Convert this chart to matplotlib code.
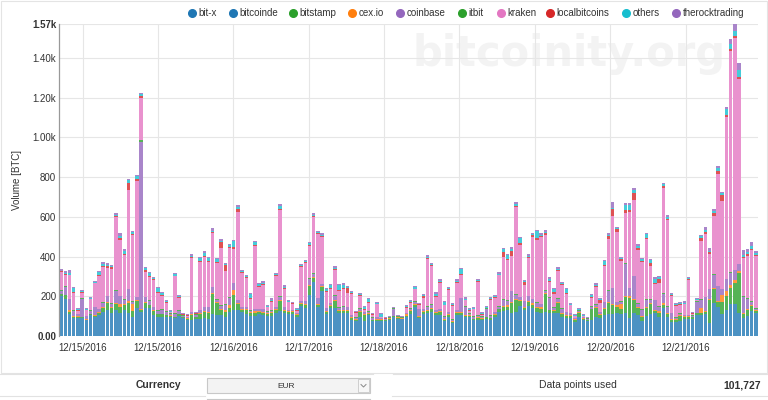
import numpy as np
import matplotlib
matplotlib.use('Agg')
import matplotlib.pyplot as plt
from matplotlib.lines import Line2D
from matplotlib.patches import Rectangle
from matplotlib.colors import to_rgb

plt.rcParams['font.family'] = ['Liberation Sans', 'DejaVu Sans']

# ---------------- data (hourly volume, BTC) ----------------
exchanges = ['bit-x', 'bitcoinde', 'bitstamp', 'cex.io', 'coinbase', 'itbit',
             'kraken', 'localbitcoins', 'others', 'therocktrading']

bitx = [1,1,1,1,1,1,1,1,1,1, 1,1,1,1,1,1,1,1,1,1, 1,1,1,1,1,1,1,1,1,1,
        1,1,1,1,1,1,1,1,1,1, 1,1,1,1,1,1,1,1,1,1, 1,1,1,1,1,1,1,1,1,1,
        1,1,1,1,1,1,1,1,1,1, 1,1,1,1,1,1,1,1,1,1, 1,1,1,1,1,1,1,1,1,1,
        1,1,1,1,1,1,1,1,1,1, 1,1,1,1,1,1,1,1,1,1, 1,1,1,1,1,1,1,1,1,1,
        1,1,1,1,1,1,1,1,1,1, 1,1,1,1,1,1,1,1,1,1, 1,1,1,1,1,1,1,1,1,1,
        1,1,1,1,1,1,1,1,1,1, 1,1,1,1,1,1]

bitcoinde = [198,185,110,89,89,89,77,105,93,105,
             122,130,117,130,114,130,114,97,139,122,
             139,139,105,97,93,93,97,89,101,90,
             78,80,85,85,90,85,110,105,105,95,
             120,130,130,120,110,100,100,110,105,100,
             100,115,127,115,110,110,95,150,140,207,
             272,145,225,110,140,140,117,117,117,80,
             72,97,72,105,72,75,75,74,81,93,
             86,83,95,110,145,90,110,117,122,105,
             105,72,97,63,105,105,97,95,78,82,
             82,85,78,95,122,125,130,114,122,148,
             130,148,140,122,114,122,114,117,117,97,
             90,90,70,97,80,76,78,97,90,105,
             110,110,114,110,114,90,114,105,72,100,
             110,114,97,140,95,70,70,75,85,85,
             85,105,105,110,65,165,145,110,130,158,
             158,115,90,100,125,115]

bitstamp = [12,20,8,8,6,5,5,5,8,10,
            20,35,25,30,30,25,50,30,35,10,
            25,15,20,12,15,10,5,5,8,5,
            8,25,10,25,30,30,100,60,25,25,
            20,75,30,10,20,15,15,10,10,12,
            15,15,50,10,10,10,10,10,15,45,
            20,10,20,10,10,35,10,10,8,8,
            8,25,35,5,5,5,5,4,5,5,
            5,4,5,15,10,5,10,10,15,10,
            15,10,8,8,10,10,5,5,5,8,
            5,8,10,10,12,20,15,50,60,25,
            10,20,15,20,20,90,15,10,50,15,
            10,10,10,20,5,4,55,45,15,30,
            55,45,30,25,80,100,65,35,25,40,
            50,10,20,15,15,10,10,25,10,10,
            8,8,10,8,115,70,25,60,70,85,
            110,200,20,30,25,10]

cexio = [2,2,10,5,3,2,2,2,3,3,
         5,3,3,5,15,5,10,35,5,5,
         5,3,3,3,3,3,2,3,2,2,
         2,3,2,3,3,3,5,5,5,10,
         15,25,3,3,3,3,8,3,3,3,
         3,3,3,3,3,3,3,3,3,5,
         5,3,5,3,3,5,5,3,3,5,
         5,3,3,3,3,3,3,2,2,2,
         2,2,8,5,5,3,3,3,3,3,
         3,3,3,5,3,3,3,3,3,3,
         3,3,3,3,3,5,10,5,5,5,
         3,5,8,5,10,5,3,3,3,3,
         3,3,3,3,3,2,3,3,3,3,
         5,5,10,25,8,10,5,5,5,5,
         5,5,8,10,5,3,3,3,3,3,
         3,3,25,5,5,8,5,35,25,15,
         12,10,5,5,5,3]

coinbase = [15,40,55,25,10,90,15,15,40,15,
            20,30,15,60,40,20,60,10,15,840,
            25,20,15,15,20,15,8,15,15,5,
            5,10,8,15,20,25,30,10,15,25,
            35,35,15,10,10,8,10,10,15,5,
            8,10,15,15,5,5,5,10,15,30,
            15,30,10,15,10,20,10,15,15,10,
            5,10,8,8,10,10,5,3,3,35,
            3,2,5,5,10,35,10,15,15,10,
            10,10,10,5,10,70,40,8,10,8,
            5,40,10,10,10,30,20,55,20,15,
            30,25,20,20,15,10,60,10,15,20,
            15,10,5,5,5,3,10,10,10,30,
            55,80,15,10,160,40,115,15,30,35,
            15,50,20,45,30,30,8,8,5,5,
            5,55,40,70,50,65,75,30,60,60,
            50,35,80,50,15,8]

itbit = [3,3,3,3,3,3,3,3,3,3, 3,3,3,3,3,3,3,3,3,10, 3,3,3,3,3,3,3,3,3,3,
         3,3,3,3,3,3,3,3,3,3, 3,3,3,3,3,3,3,3,3,3, 3,3,3,3,3,3,3,3,3,3,
         3,3,3,3,3,3,3,3,3,3, 3,3,3,3,3,3,3,3,3,3, 3,3,3,3,3,3,3,3,3,3,
         3,3,3,3,3,3,3,3,3,3, 3,3,3,3,3,3,3,3,3,3, 3,3,3,3,3,3,3,3,3,3,
         3,3,3,3,3,3,3,3,3,3, 3,3,3,3,3,3,3,3,3,3, 3,3,3,3,3,3,3,3,3,3,
         3,3,3,3,3,3,3,3,3,3, 3,3,3,3,3,3]

kraken = [90,58,118,85,15,27,26,54,117,167,
          174,142,172,369,282,225,497,330,582,212,
          126,117,136,87,68,42,3,184,61,1,
          5,269,3,239,252,223,271,182,290,167,
          249,170,442,170,145,57,315,109,121,20,
          43,153,435,90,37,29,10,169,189,162,
          284,319,232,79,69,130,81,90,69,106,
          22,61,9,41,12,63,2,1,0,0,
          0,0,25,28,61,19,56,239,192,66,
          132,55,110,67,137,115,30,12,35,168,
          8,1,76,69,154,212,202,177,440,259,
          82,189,310,311,334,278,78,69,139,117,
          88,37,9,1,2,0,40,87,46,180,
          260,362,351,203,255,382,379,269,236,302,
          170,81,117,531,437,85,58,42,52,176,
          6,4,296,315,173,294,562,441,815,1114,
          1166,927,196,216,258,265]

localbitcoins = [5,3,4,4,6,3,3,3,3,4,
                 5,6,12,5,8,5,35,8,10,8,
                 10,5,5,4,5,4,3,4,4,2,
                 2,5,2,5,5,5,5,5,30,30,
                 5,8,15,5,4,3,6,4,4,3,
                 4,5,5,4,3,3,3,4,4,5,
                 5,5,5,4,4,4,4,5,25,5,
                 3,4,3,4,3,3,3,1,1,2,
                 1,1,3,4,4,3,8,5,5,4,
                 4,3,4,3,4,5,3,3,3,4,
                 5,2,4,4,4,25,5,25,5,10,
                 12,5,12,10,5,8,5,10,5,5,
                 5,4,2,3,3,2,4,5,12,5,
                 15,35,12,10,15,10,40,12,5,5,
                 15,5,20,10,5,5,3,3,3,3,
                 3,3,15,12,12,15,15,30,10,10,
                 12,12,5,10,5,3]

others = [3,5,6,20,4,5,4,5,5,12,
          10,5,5,5,12,15,15,8,15,8,
          8,12,5,20,10,5,4,6,6,3,
          3,5,3,15,15,15,5,15,6,5,
          10,30,12,5,5,20,15,10,6,4,
          5,6,15,6,4,4,4,6,6,8,
          6,6,8,10,15,6,25,15,5,5,
          3,6,12,15,4,5,12,2,2,2,
          2,2,4,5,6,4,5,5,5,10,
          6,15,6,5,5,25,5,4,5,5,
          5,3,8,5,5,15,20,10,10,25,
          5,8,5,35,8,8,10,15,6,6,
          20,5,3,5,4,2,10,8,5,20,
          6,5,6,6,25,25,15,10,8,20,
          12,20,10,10,10,5,4,5,5,5,
          4,5,8,10,5,10,12,8,30,25,
          22,35,8,10,15,12]

therocktrading = [8,8,15,8,4,6,5,5,5,8,
                  12,10,5,10,12,8,5,8,5,8,
                  5,5,5,6,5,5,5,8,5,4,
                  4,10,5,8,10,6,12,5,6,8,
                  5,6,8,5,6,5,5,5,10,5,
                  8,8,10,8,5,5,5,6,6,8,
                  6,8,10,5,5,8,5,6,5,5,
                  5,8,5,5,5,5,5,3,3,5,
                  3,3,5,5,6,5,5,8,8,8,
                  8,5,6,5,8,6,8,5,5,6,
                  5,5,5,6,8,8,5,6,8,5,
                  6,8,6,6,6,8,6,5,6,6,
                  5,5,5,5,5,4,6,6,5,5,
                  6,30,8,6,6,6,6,6,6,5,
                  5,6,6,6,8,6,5,5,8,8,
                  5,5,6,12,12,10,10,8,8,25,
                  35,35,25,15,20,8]

series_values = [bitx, bitcoinde, bitstamp, cexio, coinbase, itbit,
                 kraken, localbitcoins, others, therocktrading]

tick_labels = ['12/15/2016', '12/15/2016', '12/16/2016', '12/17/2016', '12/18/2016',
               '12/18/2016', '12/19/2016', '12/20/2016', '12/21/2016']
tick_hours = [5.1, 23.0, 40.9, 58.8, 76.7, 94.6, 112.5, 130.4, 148.3]

y_ticks = [0, 200, 400, 600, 800, 1000, 1200, 1400, 1570]
y_tick_labels = ['0.00', '200', '400', '600', '800', '1.00k', '1.20k', '1.40k', '1.57k']

# ---------------- styling ----------------
colors = ['#1f77b4', '#1f77b4', '#2ca02c', '#ff7f0e', '#9467bd', '#2ca02c',
          '#e377c2', '#d62728', '#17becf', '#9467bd']

def soften(c, a=0.8):
    r, g, b = to_rgb(c)
    return (r * a + 1 - a, g * a + 1 - a, b * a + 1 - a)

W, H = 768, 400
def fx(px):
    return px / W
def fy(py):
    return 1 - py / H

fig = plt.figure(figsize=(W / 100, H / 100), dpi=100)
fig.patch.set_facecolor('white')

ax_left, ax_right, ax_top, ax_bot = 59, 758, 24, 336
ax = fig.add_axes([fx(ax_left), fy(ax_bot), (ax_right - ax_left) / W, (ax_bot - ax_top) / H])

n = len(bitcoinde)
x = np.arange(n)
bottom = np.zeros(n)
for vals, col in zip(series_values, colors):
    v = np.array(vals, dtype=float)
    ax.bar(x, v, width=0.82, bottom=bottom, color=soften(col), linewidth=0, zorder=2)
    bottom += v

ax.set_xlim(-0.5, n - 0.5)
ax.set_ylim(0, 1570)

ax.set_axisbelow(True)
ax.grid(True, color='#e6e6e6', linewidth=0.8)

ax.set_xticks(tick_hours)
ax.set_xticklabels(tick_labels)
ax.set_yticks(y_ticks)
ax.set_yticklabels(y_tick_labels)
ax.tick_params(axis='both', length=0, labelsize=7, colors='#333333')
ax.tick_params(axis='x', pad=5)
ax.tick_params(axis='y', pad=2)
for i, lab in enumerate(ax.get_yticklabels()):
    if i == 0 or i == len(y_ticks) - 1:
        lab.set_fontweight('bold')

for s in ['top', 'right', 'bottom']:
    ax.spines[s].set_visible(False)
ax.spines['left'].set_color('#999999')
ax.spines['left'].set_linewidth(0.9)

ax.set_ylabel('Volume [BTC]', fontsize=7, color='#333333')
ax.yaxis.set_label_coords((22 - ax_left) / (ax_right - ax_left), 0.5)

# watermark
ax.text(fx(413), fy(66), 'bitcoinity.org', transform=fig.transFigure,
        fontsize=30, fontweight='bold', color='#f3f3f3',
        family='DejaVu Sans', ha='left', va='baseline', zorder=0.3)

# legend (manual)
leg_x = [192, 233, 293, 352, 400, 462, 501, 550, 626, 676]
leg_y = 13
for cx, name, col in zip(leg_x, exchanges, colors):
    fig.add_artist(Line2D([fx(cx)], [fy(leg_y)], marker='o', markersize=5.5,
                          color=col, linestyle='none', transform=fig.transFigure))
    fig.text(fx(cx + 6.5), fy(leg_y), name, fontsize=7, color='#333333',
             ha='left', va='center')

# chart container border
fig.add_artist(Rectangle((fx(1), fy(373)), (W - 2) / W, 372 / H, transform=fig.transFigure,
                         facecolor='none', edgecolor='#e4e4e4', linewidth=0.8))

# bottom info panel
for (x0, x1, yy) in [(0, 373, 374), (393, 768, 374), (0, 205, 396), (392, 768, 396)]:
    fig.add_artist(Line2D([fx(x0), fx(x1)], [fy(yy), fy(yy)], color='#e2e2e2',
                          linewidth=0.8, transform=fig.transFigure))

fig.add_artist(Rectangle((fx(207), fy(393)), 163 / W, 15 / H, transform=fig.transFigure,
                         facecolor='#f3f3f3', edgecolor='#c8c8c8', linewidth=0.8))
fig.add_artist(Rectangle((fx(358), fy(392)), 11 / W, 13 / H, transform=fig.transFigure,
                         facecolor='#f7f7f7', edgecolor='#c8c8c8', linewidth=0.6))
fig.add_artist(Line2D([fx(361), fx(363.5), fx(366)], [fy(384.5), fy(387), fy(384.5)],
                      color='#888888', linewidth=0.7, transform=fig.transFigure))
fig.add_artist(Line2D([fx(207), fx(370)], [fy(398.5), fy(398.5)], color='#c8c8c8',
                      linewidth=0.8, transform=fig.transFigure))

fig.text(fx(181), fy(385.5), 'Currency', fontsize=7.5, fontweight='bold',
         color='#333333', ha='right', va='center')
fig.text(fx(286), fy(386), 'EUR', fontsize=6, color='#333333', ha='center', va='center')
fig.text(fx(578), fy(385.5), 'Data points used', fontsize=7.5, color='#333333',
         ha='center', va='center')
fig.text(fx(761), fy(385.5), '101,727', fontsize=7.5, fontweight='bold',
         color='#333333', ha='right', va='center')

fig.savefig('out.png', dpi=100)
